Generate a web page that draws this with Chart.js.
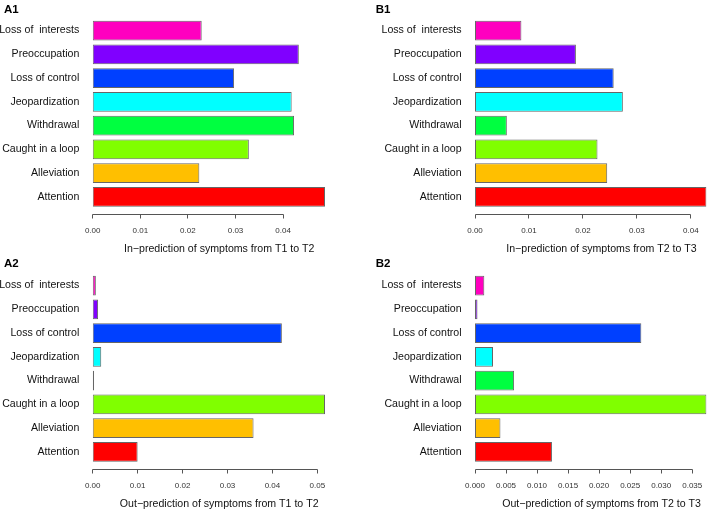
<!DOCTYPE html>
<html>
<head>
<meta charset="utf-8">
<script src="https://cdn.jsdelivr.net/npm/chart.js@4/dist/chart.umd.min.js"></script>
<style>
  html, body { margin: 0; padding: 0; background: #fff; overflow: hidden; }
  #wrap { position: relative; width: 708px; height: 512px; overflow: hidden; background: #fff; }
  canvas { position: absolute; }
</style>
</head>
<body>
<div id="wrap">
  <canvas id="cA1" width="354" height="262" style="left:0;top:0"></canvas>
  <canvas id="cB1" width="354" height="262" style="left:354px;top:0"></canvas>
  <canvas id="cA2" width="354" height="257" style="left:0;top:255px"></canvas>
  <canvas id="cB2" width="354" height="257" style="left:354px;top:255px"></canvas>
</div>
<script>
// ---- data (top-to-bottom order as drawn) ----
const symptoms = ['Loss of  interests', 'Preoccupation', 'Loss of control', 'Jeopardization',
                  'Withdrawal', 'Caught in a loop', 'Alleviation', 'Attention'];
const barColors = ['#FF00BF', '#8000FF', '#0040FF', '#00FFFF', '#00FF40', '#80FF00', '#FFBF00', '#FF0000'];

const inPredT1T2  = [0.0229, 0.0433, 0.0297, 0.0418, 0.0423, 0.0328, 0.0224, 0.0488];
const inPredT2T3  = [0.0086, 0.0187, 0.0257, 0.0274, 0.0059, 0.0227, 0.0245, 0.0429];
const outPredT1T2 = [0.0007, 0.0012, 0.0421, 0.0019, 0.0003, 0.0517, 0.0358, 0.0100];
const outPredT2T3 = [0.0015, 0.0004, 0.0268, 0.0029, 0.0063, 0.0373, 0.0041, 0.0124];

const tickStepA1 = 0.01, tickStepB1 = 0.01, tickStepA2 = 0.01, tickStepB2 = 0.005;

const titleA1 = 'In\u2212prediction of symptoms from T1 to T2';
const titleB1 = 'In\u2212prediction of symptoms from T2 to T3';
const titleA2 = 'Out\u2212prediction of symptoms from T1 to T2';
const titleB2 = 'Out\u2212prediction of symptoms from T2 to T3';

// ---- styling ----
const FONT = '"Liberation Sans", Arial, Helvetica, sans-serif';
Chart.defaults.font.family = FONT;

const rStyle = {
  id: 'rStyle',
  afterDraw(chart, args, o) {
    const ctx = chart.ctx, xs = chart.scales.x, ca = chart.chartArea;
    const px = xs.ticks.map(t => xs.getPixelForValue(t.value));
    const yAx = Math.round(ca.bottom + 5.6) + 0.5;
    ctx.save();
    ctx.strokeStyle = '#555';
    ctx.lineWidth = 1;
    ctx.beginPath();
    ctx.moveTo(Math.round(px[0] - 0.5) + 0.5, yAx);
    ctx.lineTo(Math.round(px[px.length - 1] - 0.5) + 0.5, yAx);
    px.forEach(p => {
      const xx = Math.round(p - 0.5) + 0.5;
      ctx.moveTo(xx, yAx);
      ctx.lineTo(xx, yAx + 4);
    });
    ctx.stroke();
    // axis title
    ctx.fillStyle = '#111';
    ctx.font = '10.6px ' + FONT;
    ctx.textAlign = 'center';
    ctx.textBaseline = 'middle';
    ctx.fillText(o.title, ca.left + 126.5, ca.bottom + 40.8);
    // panel tag
    ctx.font = 'bold 11.5px ' + FONT;
    ctx.textAlign = 'left';
    ctx.textBaseline = 'alphabetic';
    ctx.fillStyle = '#000';
    ctx.fillText(o.tag, o.tagX, o.tagY);
    ctx.restore();
  }
};

function makeChart(id, values, step, decimals, title, tag, tagX, tagY, yWidth, padRight, padBottom) {
  return new Chart(document.getElementById(id), {
    type: 'bar',
    data: {
      labels: symptoms,
      datasets: [{
        data: values,
        backgroundColor: barColors,
        borderColor: '#666666',
        borderWidth: 1,
        borderSkipped: false,
        barPercentage: 0.833,
        categoryPercentage: 1.0
      }]
    },
    options: {
      indexAxis: 'y',
      responsive: false,
      animation: false,
      devicePixelRatio: 1,
      layout: { padding: { left: 0, top: 18.7, right: padRight, bottom: padBottom } },
      plugins: {
        legend: { display: false },
        tooltip: { enabled: false },
        rStyle: { title: title, tag: tag, tagX: tagX, tagY: tagY }
      },
      scales: {
        x: {
          type: 'linear',
          min: 0,
          max: Math.max(...values),
          grid: { display: false, drawTicks: false },
          border: { display: false },
          ticks: {
            stepSize: step,
            includeBounds: false,
            autoSkip: false,
            maxRotation: 0,
            padding: 17.5,
            color: '#333',
            font: { size: 8 },
            callback: v => Number(v).toFixed(decimals)
          },
          afterFit: s => { s.height = 40; s.paddingLeft = 0; s.paddingRight = 0; }
        },
        y: {
          type: 'category',
          offset: true,
          grid: { display: false, drawTicks: false },
          border: { display: false },
          ticks: {
            padding: 13.4,
            color: '#111',
            font: { size: 10.6 },
            autoSkip: false
          },
          afterFit: s => { s.width = yWidth; s.paddingTop = 0; s.paddingBottom = 0; }
        }
      }
    },
    plugins: [rStyle]
  });
}

makeChart('cA1', inPredT1T2,  tickStepA1, 2, titleA1, 'A1', 4,    13.3, 92.7, 29,  13.3);
makeChart('cB1', inPredT2T3,  tickStepB1, 2, titleB1, 'B1', 21.7, 13.3, 121,  1.5, 13.3);
makeChart('cA2', outPredT1T2, tickStepA2, 2, titleA2, 'A2', 4,    11.7, 92.7, 29,  8.3);
makeChart('cB2', outPredT2T3, tickStepB2, 3, titleB2, 'B2', 21.7, 11.7, 121,  1.5, 8.3);
</script>
</body>
</html>
